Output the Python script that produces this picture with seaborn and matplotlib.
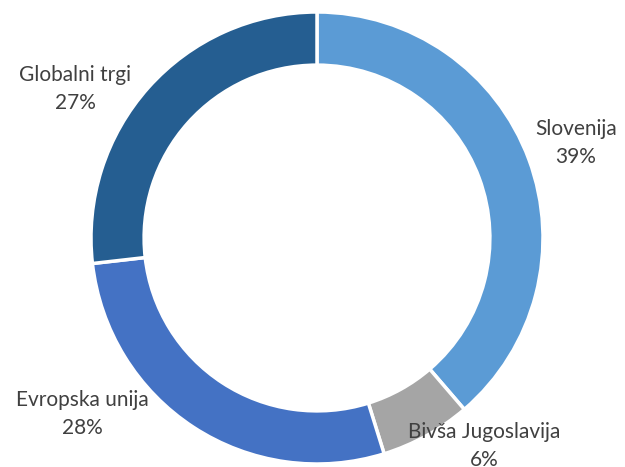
import matplotlib
matplotlib.use("Agg")
import matplotlib.pyplot as plt
import numpy as np
import seaborn as sns

sns.set_theme(style="white")
plt.rcParams['font.family'] = ['Lato', 'DejaVu Sans']

# Data
regions = ['Slovenija', 'Bivša Jugoslavija', 'Evropska unija', 'Globalni trgi']
shares = [38.7, 6.5, 28.0, 26.8]
colors = ['#5B9BD5', '#A5A5A5', '#4472C4', '#255E91']
# label placement (pixel offsets from donut centre)
label_pos = [(259, 95), (167, -208), (-235, -176), (-242, 149)]

fig = plt.figure(figsize=(6.25, 4.67), dpi=100)
ax = fig.add_axes([0, 0, 1, 1])

cx, cy, r = 317, 467 - 238, 226
wedges, _ = ax.pie(shares, colors=colors, startangle=90, counterclock=False,
                   radius=r, center=(cx, cy),
                   wedgeprops=dict(width=r * 0.235, edgecolor='white', linewidth=2.5))

for name, val, (dx, dy) in zip(regions, shares, label_pos):
    ax.text(cx + dx, cy + dy, f"{name}\n{round(val):.0f}%", ha='center', va='center',
            fontsize=15, color='#404040', linespacing=1.45)

ax.set_xlim(0, 625)
ax.set_ylim(0, 467)
ax.set_aspect('equal')
ax.axis('off')

fig.savefig('out.png', dpi=100)
